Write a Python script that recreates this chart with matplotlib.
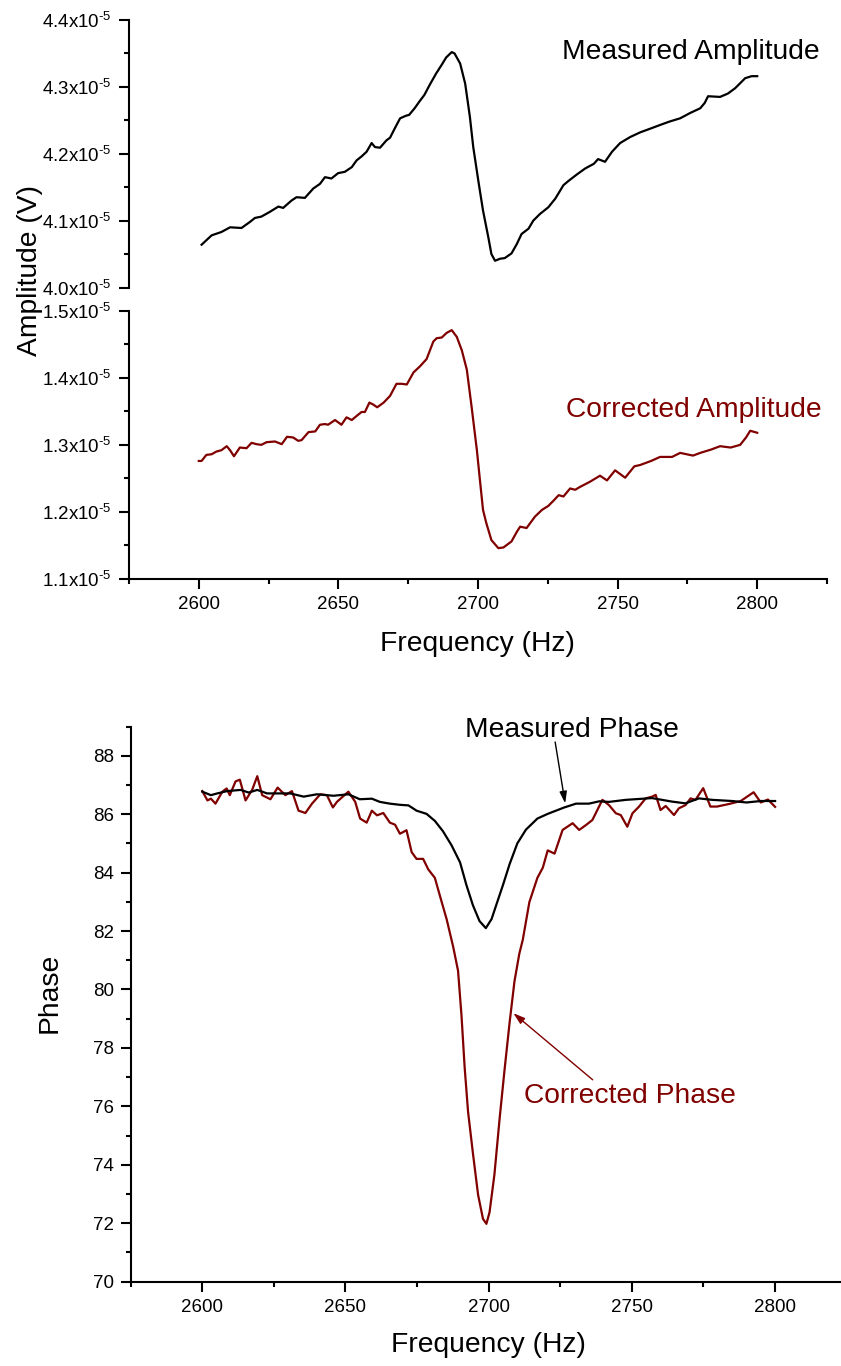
import numpy as np
import matplotlib
matplotlib.use("Agg")
import matplotlib.pyplot as plt
from matplotlib.ticker import MultipleLocator, FuncFormatter

plt.rcParams['font.family'] = ['Liberation Sans', 'DejaVu Sans']
plt.rcParams['mathtext.fontset'] = 'custom'
plt.rcParams['mathtext.rm'] = 'Liberation Sans'
plt.rcParams['mathtext.default'] = 'regular'

# ---------------- data ----------------
meas_amp_f = [2601.0, 2604.6, 2608.1, 2611.2, 2615.3, 2618.3, 2620.1, 2622.4, 2625.4, 2628.5,
              2630.2, 2633.2, 2635.0, 2638.0, 2641.0, 2643.4, 2645.2, 2647.5, 2649.9, 2652.3,
              2654.8, 2656.5, 2658.3, 2660.1, 2661.9, 2663.1, 2664.9, 2667.2, 2668.5, 2670.2,
              2672.1, 2674.3, 2675.3, 2677.3, 2679.0, 2680.8, 2682.7, 2685.0, 2687.0, 2688.6,
              2690.6, 2691.6, 2693.6, 2695.4, 2697.1, 2698.3, 2700.1, 2701.8, 2703.7, 2704.8,
              2706.1, 2707.9, 2709.6, 2712.0, 2713.9, 2715.6, 2718.1, 2719.8, 2722.2, 2725.2,
              2727.7, 2730.6, 2732.3, 2735.4, 2738.4, 2741.5, 2743.0, 2745.5, 2748.0, 2750.9,
              2754.5, 2758.1, 2762.0, 2765.2, 2768.5, 2772.4, 2776.0, 2779.6, 2781.2, 2782.4,
              2786.7, 2789.5, 2792.1, 2795.7, 2798.0, 2800.0]
meas_amp = [4.064, 4.078, 4.083, 4.090, 4.089, 4.098, 4.104, 4.106, 4.113, 4.121,
            4.119, 4.130, 4.135, 4.134, 4.148, 4.155, 4.165, 4.163, 4.171, 4.173,
            4.180, 4.190, 4.196, 4.203, 4.216, 4.210, 4.209, 4.220, 4.224, 4.238,
            4.253, 4.257, 4.258, 4.268, 4.278, 4.288, 4.303, 4.320, 4.333, 4.344,
            4.352, 4.350, 4.335, 4.305, 4.255, 4.210, 4.160, 4.115, 4.075, 4.050,
            4.040, 4.043, 4.044, 4.051, 4.065, 4.080, 4.088, 4.100, 4.110, 4.120,
            4.133, 4.153, 4.159, 4.169, 4.178, 4.185, 4.192, 4.188, 4.203, 4.216,
            4.225, 4.232, 4.238, 4.243, 4.248, 4.253, 4.261, 4.268, 4.276, 4.286,
            4.285, 4.290, 4.298, 4.313, 4.316, 4.316]

corr_amp_f = [2600.0, 2601.0, 2602.7, 2604.6, 2606.3, 2608.1, 2610.0, 2611.2, 2612.6, 2614.7,
              2617.1, 2618.9, 2620.7, 2622.4, 2624.3, 2627.3, 2629.7, 2631.6, 2633.8, 2635.6,
              2636.8, 2639.3, 2641.7, 2643.4, 2645.2, 2646.3, 2648.8, 2651.1, 2652.9, 2654.8,
              2656.5, 2658.3, 2659.5, 2661.1, 2662.5, 2663.9, 2666.2, 2668.5, 2670.8, 2672.7,
              2674.5, 2676.9, 2679.2, 2681.6, 2684.0, 2685.2, 2687.0, 2688.8, 2690.6, 2692.4,
              2694.2, 2696.0, 2697.7, 2699.6, 2700.8, 2701.8, 2703.0, 2704.8, 2707.3, 2709.1,
              2712.0, 2714.0, 2715.1, 2717.4, 2720.4, 2722.9, 2725.2, 2727.1, 2728.9, 2730.6,
              2733.0, 2734.8, 2736.4, 2740.1, 2743.7, 2746.2, 2749.1, 2752.7, 2756.0, 2758.1,
              2762.0, 2765.2, 2769.5, 2772.4, 2777.0, 2779.6, 2783.5, 2786.7, 2790.5, 2793.9,
              2796.0, 2797.5, 2800.0]
corr_amp = [1.276, 1.276, 1.285, 1.286, 1.290, 1.292, 1.298, 1.292, 1.283, 1.296,
            1.295, 1.303, 1.301, 1.300, 1.304, 1.305, 1.301, 1.312, 1.311, 1.306,
            1.307, 1.319, 1.320, 1.330, 1.331, 1.330, 1.337, 1.330, 1.341, 1.337,
            1.343, 1.349, 1.349, 1.363, 1.360, 1.356, 1.363, 1.373, 1.391, 1.391,
            1.390, 1.408, 1.417, 1.428, 1.454, 1.459, 1.460, 1.467, 1.471, 1.461,
            1.441, 1.412, 1.357, 1.292, 1.243, 1.203, 1.183, 1.158, 1.146, 1.147,
            1.156, 1.171, 1.178, 1.176, 1.193, 1.203, 1.209, 1.217, 1.225, 1.223,
            1.235, 1.233, 1.237, 1.245, 1.254, 1.247, 1.262, 1.251, 1.268, 1.270,
            1.276, 1.282, 1.282, 1.288, 1.284, 1.288, 1.293, 1.298, 1.296, 1.300,
            1.311, 1.321, 1.318]

meas_ph_f = [2600.0, 2603.0, 2605.2, 2608.7, 2613.4, 2616.2, 2619.2, 2622.6, 2627.3, 2630.7,
             2635.4, 2640.0, 2645.8, 2651.0, 2655.0, 2659.2, 2662.0, 2665.5, 2669.0, 2672.0,
             2674.8, 2678.3, 2681.2, 2684.0, 2687.0, 2690.0, 2692.2, 2694.5, 2696.8, 2699.0,
             2701.0, 2702.6, 2705.0, 2707.3, 2710.0, 2713.0, 2717.0, 2720.6, 2723.5, 2726.4,
             2730.5, 2735.0, 2738.6, 2742.0, 2747.9, 2757.0, 2764.0, 2768.7, 2773.4, 2778.0,
             2785.0, 2790.0, 2795.0, 2800.0]
meas_ph = [86.77, 86.65, 86.71, 86.79, 86.83, 86.74, 86.83, 86.71, 86.71, 86.71,
           86.60, 86.68, 86.63, 86.68, 86.51, 86.53, 86.42, 86.36, 86.32, 86.30,
           86.12, 86.01, 85.77, 85.42, 84.94, 84.35, 83.58, 82.88, 82.34, 82.10,
           82.41, 82.88, 83.58, 84.29, 85.00, 85.47, 85.85, 86.01, 86.12, 86.23,
           86.36, 86.36, 86.44, 86.42, 86.49, 86.55, 86.43, 86.37, 86.54, 86.49,
           86.45, 86.40, 86.45, 86.45]

corr_ph_f = [2600.0, 2601.8, 2603.0, 2604.6, 2607.0, 2608.5, 2609.6, 2611.6, 2613.1, 2615.1,
             2617.4, 2619.2, 2620.9, 2623.8, 2626.3, 2629.0, 2631.3, 2633.6, 2636.0, 2638.3,
             2641.2, 2643.5, 2645.6, 2647.0, 2651.0, 2653.4, 2655.1, 2657.4, 2659.2, 2661.0,
             2663.2, 2665.5, 2667.3, 2669.0, 2671.3, 2673.1, 2674.8, 2677.1, 2678.9, 2681.2,
             2682.9, 2685.3, 2687.6, 2689.3, 2690.5, 2691.6, 2692.8, 2694.5, 2696.3, 2698.0,
             2699.2, 2700.3, 2702.0, 2703.8, 2705.5, 2707.3, 2709.0, 2710.7, 2711.9, 2714.2,
             2717.0, 2718.9, 2720.6, 2723.0, 2725.8, 2729.3, 2731.6, 2734.0, 2736.2, 2739.7,
             2742.0, 2744.4, 2746.1, 2748.4, 2750.2, 2752.5, 2754.8, 2757.1, 2758.3, 2760.0,
             2761.8, 2764.7, 2766.4, 2768.7, 2770.5, 2772.2, 2774.9, 2777.4, 2779.7, 2784.0,
             2788.0, 2792.5, 2795.0, 2797.5, 2800.0]
corr_ph = [86.79, 86.47, 86.53, 86.36, 86.77, 86.88, 86.65, 87.12, 87.18, 86.47,
           86.83, 87.30, 86.65, 86.51, 86.91, 86.65, 86.79, 86.12, 86.04, 86.36,
           86.68, 86.65, 86.23, 86.42, 86.77, 86.42, 85.85, 85.71, 86.12, 85.96,
           86.04, 85.71, 85.64, 85.33, 85.45, 84.70, 84.47, 84.47, 84.11, 83.82,
           83.23, 82.41, 81.46, 80.64, 79.11, 77.34, 75.81, 74.39, 72.97, 72.15,
           71.98, 72.38, 73.67, 75.57, 77.22, 78.87, 80.28, 81.23, 81.70, 82.99,
           83.82, 84.17, 84.76, 84.65, 85.46, 85.69, 85.46, 85.63, 85.80, 86.49,
           86.31, 86.03, 85.97, 85.57, 86.03, 86.26, 86.54, 86.60, 86.66, 86.14,
           86.28, 85.97, 86.20, 86.31, 86.54, 86.49, 86.89, 86.26, 86.26, 86.35,
           86.45, 86.75, 86.40, 86.50, 86.25]

x_ticks = [2600, 2650, 2700, 2750, 2800]
amp_top_ticks = [4.0, 4.1, 4.2, 4.3, 4.4]
amp_bot_ticks = [1.1, 1.2, 1.3, 1.4, 1.5]
phase_ticks = [70, 72, 74, 76, 78, 80, 82, 84, 86, 88]

RED = '#800000'
W, H = 841, 1366
fig = plt.figure(figsize=(W / 100, H / 100), dpi=100)


def px_axes(left, top, right, bottom):
    return fig.add_axes([left / W, 1 - bottom / H, (right - left) / W, (bottom - top) / H])


def style(ax, show_x=True):
    for s in ['top', 'right']:
        ax.spines[s].set_visible(False)
    ax.spines['left'].set_linewidth(1.5)
    ax.spines['bottom'].set_linewidth(1.5)
    if not show_x:
        ax.spines['bottom'].set_visible(False)
        ax.tick_params(axis='x', which='both', bottom=False, labelbottom=False)
    ax.tick_params(which='major', direction='out', length=7.2, width=1.5, labelsize=13.5, pad=5)
    ax.tick_params(which='minor', direction='out', length=3.6, width=1.5)
    ax.patch.set_alpha(0)


def sci_fmt(v, pos):
    return f'{v * 1e5:.1f}x10$^{{\u2010 5}}$'.replace('\u2010 ', '\u2010')


xlim = (2575, 2825)

# ---- top amplitude (measured) ----
ax1 = px_axes(129, 20, 827, 287.5)
ax1.plot(meas_amp_f, np.array(meas_amp) * 1e-5, color='black', lw=1.6)
ax1.set_xlim(*xlim)
ax1.set_ylim(4.0e-5, 4.4e-5)
ax1.set_yticks(np.array(amp_top_ticks) * 1e-5)
ax1.yaxis.set_minor_locator(MultipleLocator(0.05e-5))
ax1.yaxis.set_major_formatter(FuncFormatter(sci_fmt))
style(ax1, show_x=False)
ax1.text(2776.3, 4.352e-5, 'Measured Amplitude', fontsize=20.3, ha='center', va='center', color='black')

# ---- lower amplitude (corrected) ----
ax2 = px_axes(129, 310.7, 827, 579)
ax2.plot(corr_amp_f, np.array(corr_amp) * 1e-5, color=RED, lw=1.6)
ax2.set_xlim(*xlim)
ax2.set_ylim(1.1e-5, 1.5e-5)
ax2.set_yticks(np.array(amp_bot_ticks) * 1e-5)
ax2.yaxis.set_minor_locator(MultipleLocator(0.05e-5))
ax2.yaxis.set_major_formatter(FuncFormatter(sci_fmt))
ax2.set_xticks(x_ticks)
ax2.xaxis.set_minor_locator(MultipleLocator(25))
style(ax2)
ax2.text(2777.4, 1.352e-5, 'Corrected Amplitude', fontsize=20.3, ha='center', va='center', color=RED)

fig.text(30 / W, 1 - 270 / H, 'Amplitude (V)', rotation=90, fontsize=20.3, ha='center', va='center')
fig.text(477 / W, 1 - 644 / H, 'Frequency (Hz)', fontsize=20.3, ha='center', va='center')

# ---- phase ----
ax3 = px_axes(130.7, 726.5, 846.7, 1281.7)
ax3.plot(meas_ph_f, meas_ph, color='black', lw=1.6, zorder=3)
ax3.plot(corr_ph_f, corr_ph, color=RED, lw=1.6, zorder=2)
ax3.set_xlim(*xlim)
ax3.set_ylim(70, 89)
ax3.set_yticks(phase_ticks)
ax3.yaxis.set_minor_locator(MultipleLocator(1))
ax3.set_xticks(x_ticks)
ax3.xaxis.set_minor_locator(MultipleLocator(25))
style(ax3)

ax3.text(2729.1, 88.88, 'Measured Phase', fontsize=20.3, ha='center', va='center', color='black',
         clip_on=False)
ax3.annotate('', xy=(2726.7, 86.37), xytext=(2723.2, 88.47),
             arrowprops=dict(arrowstyle='-|>,head_length=0.7,head_width=0.22', lw=1.0, color='black',
                             shrinkA=0, shrinkB=0), annotation_clip=False)
ax3.text(2749.3, 76.36, 'Corrected Phase', fontsize=20.3, ha='center', va='center', color=RED)
ax3.annotate('', xy=(2708.6, 79.19), xytext=(2736.3, 76.91),
             arrowprops=dict(arrowstyle='-|>,head_length=0.7,head_width=0.22', lw=1.0, color=RED,
                             shrinkA=0, shrinkB=0), annotation_clip=False)

fig.text(50 / W, 1 - 993 / H, 'Phase', rotation=90, fontsize=20.3, ha='center', va='center')
fig.text(488 / W, 1 - 1345 / H, 'Frequency (Hz)', fontsize=20.3, ha='center', va='center')

fig.savefig('out.png', dpi=100)
